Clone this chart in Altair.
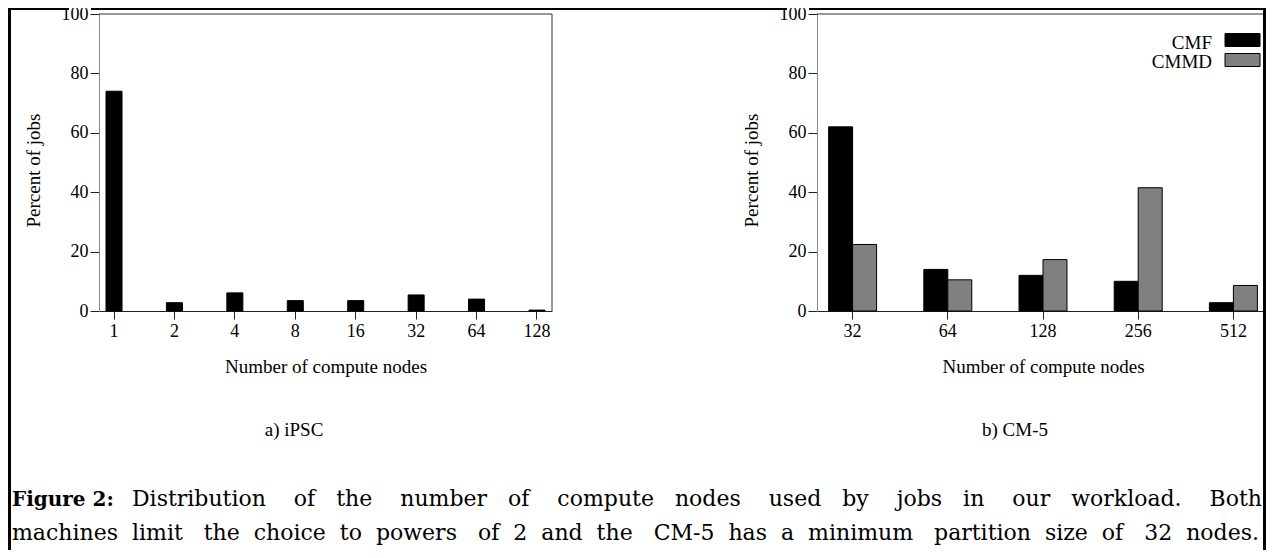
import altair as alt
import pandas as pd

# ---------------- data ----------------
ipsc_nodes = ["1", "2", "4", "8", "16", "32", "64", "128"]
ipsc_pct = [74.0, 2.8, 6.1, 3.5, 3.5, 5.4, 4.0, 0.3]

cm5_nodes = ["32", "64", "128", "256", "512"]
cmf_pct = [62.0, 14.0, 12.0, 10.0, 2.8]
cmmd_pct = [22.4, 10.5, 17.3, 41.5, 8.6]
series_names = ["CMF", "CMMD"]
series_colors = ["#000000", "#808080"]

y_ticks = [0, 20, 40, 60, 80, 100]
x_title = "Number of compute nodes"
y_title = "Percent of jobs"
panel_labels = ["a) iPSC", "b) CM-5"]
caption_bold = "Figure 2:"
caption_line1 = "Distribution of the number of compute nodes used by jobs in our workload. Both"
caption_line2 = "machines limit the choice to powers of 2 and the CM-5 has a minimum partition size of 32 nodes."

# ---------------- layout (pixels, relative to left plot origin) ----------------
SERIF = "Liberation Serif"
CAP_FONT = "DejaVu Serif"
CAP_SIZE = 22
H = 297
L0, L1 = 0, 453
R0, R1 = 718, 1170
W = 1167

one = pd.DataFrame({"k": [0]})

def axis_x(center):
    return alt.Axis(title=x_title, orient="bottom", labelAngle=0, tickSize=8, labelPadding=3,
                    labelFont=SERIF, labelFontSize=18, labelColor="black",
                    titleFont=SERIF, titleFontSize=19, titleFontWeight="normal", titleColor="black",
                    titleX=center, titleY=61, titleBaseline="alphabetic",
                    domainColor="#222", tickColor="#222", grid=False)

def axis_y(offset):
    return alt.Axis(values=y_ticks, title=y_title, orient="left", offset=offset, tickSize=9, labelPadding=2,
                    labelFont=SERIF, labelFontSize=18, labelColor="black",
                    titleFont=SERIF, titleFontSize=19, titleFontWeight="normal", titleColor="black",
                    titleX=-66, titleY=156, titleBaseline="middle", titleAngle=270,
                    domainColor="#888", tickColor="#222", grid=False)

left_df = pd.DataFrame({"nodes": ipsc_nodes, "pct": ipsc_pct})
left = alt.Chart(left_df).mark_bar(color="black", stroke="black", strokeWidth=1).encode(
    x=alt.X("nodes:N", sort=ipsc_nodes,
            scale=alt.Scale(range=[L0, L1], paddingInner=0.735, paddingOuter=0.116),
            axis=axis_x((L0 + L1) / 2)),
    y=alt.Y("pct:Q", scale=alt.Scale(domain=[0, 100]), axis=axis_y(0)),
)

right_df = pd.DataFrame({
    "nodes": cm5_nodes + cm5_nodes,
    "series": [series_names[0]] * len(cm5_nodes) + [series_names[1]] * len(cm5_nodes),
    "pct": cmf_pct + cmmd_pct,
})
right = alt.Chart(right_df).mark_bar(stroke="black", strokeWidth=1).encode(
    x=alt.X("nodes:N", sort=cm5_nodes,
            scale=alt.Scale(range=[R0, R1], paddingInner=0.496, paddingOuter=0.122),
            axis=axis_x((R0 + R1) / 2)),
    xOffset=alt.XOffset("series:N", sort=series_names,
                        scale=alt.Scale(paddingInner=0, paddingOuter=0)),
    y=alt.Y("pct:Q", scale=alt.Scale(domain=[0, 100]), axis=axis_y(-R0)),
    color=alt.Color("series:N", sort=series_names,
                    scale=alt.Scale(domain=series_names, range=series_colors),
                    legend=None),
)

def seg(x, x2, y, y2, color="#333", w=1):
    return alt.Chart(one).mark_rule(color=color, strokeWidth=w).encode(
        x=alt.value(x), x2=alt.value(x2), y=alt.value(y), y2=alt.value(y2))

borders = [
    seg(L0, L1, 0, 0), seg(L1, L1, 0, H),
    seg(R0, W, 0, 0),
    # outer figure frame (left, top with gaps around the "100" labels, right)
    seg(-89.5, -89.5, -6, 536, "black", 3),
    seg(-91, -30, -5, -5, "black", 2),
    seg(-8, 688, -5, -5, "black", 2),
    seg(710, W, -5, -5, "black", 2),
    seg(W - 1.5, W - 1.5, -6, 536, "black", 3),
]

def txt(s, x, y, font=SERIF, size=19, align="center", weight="normal"):
    return alt.Chart(one).mark_text(text=s, font=font, fontSize=size, align=align,
                                    baseline="alphabetic", fontWeight=weight, color="black").encode(
        x=alt.value(x), y=alt.value(y))

# legend (inside the CM-5 panel, labels left of swatches)
legend_items = []
for i, (name, col) in enumerate(zip(series_names, series_colors)):
    y0 = 19.5 + 20 * i
    legend_items.append(
        alt.Chart(one).mark_rect(color=col, stroke="black", strokeWidth=1).encode(
            x=alt.value(1126), x2=alt.value(1161), y=alt.value(y0), y2=alt.value(y0 + 13)))
    legend_items.append(txt(name, 1113, 35.3 + 19 * i, SERIF, 19, "right"))

NB = "\u00a0"
words1 = caption_line1.split(" ")
line1 = words1[0]
for i, w in enumerate(words1[1:]):
    line1 += " " + NB * (3 if i % 2 == 0 else 2) + w
words2 = caption_line2.split(" ")
line2 = words2[0]
wide_gaps = {1, 5, 9, 13, 16}
for i, w in enumerate(words2[1:]):
    line2 += " " + NB * (2 if i in wide_gaps else 1) + w

texts = [
    txt(panel_labels[0], 195, 422),
    txt(panel_labels[1], 916, 422),
    txt(caption_bold, -87, 492, CAP_FONT, 20, "left", "bold"),
    txt(line1, 1163, 492, CAP_FONT, CAP_SIZE, "right"),
    txt(line2, -87, 526, CAP_FONT, CAP_SIZE, "left"),
]

chart = alt.layer(left, right, *borders, *legend_items, *texts).resolve_scale(
    x="independent", y="independent", color="independent"
).resolve_axis(x="independent", y="independent").properties(
    width=W, height=H,
    autosize=alt.AutoSizeParams(type="none"),
    padding={"left": 91, "top": 6, "right": 0, "bottom": 239},
).configure(background="white").configure_view(stroke=None)

chart.save("out.html", embed_options={"renderer": "svg", "actions": False})
